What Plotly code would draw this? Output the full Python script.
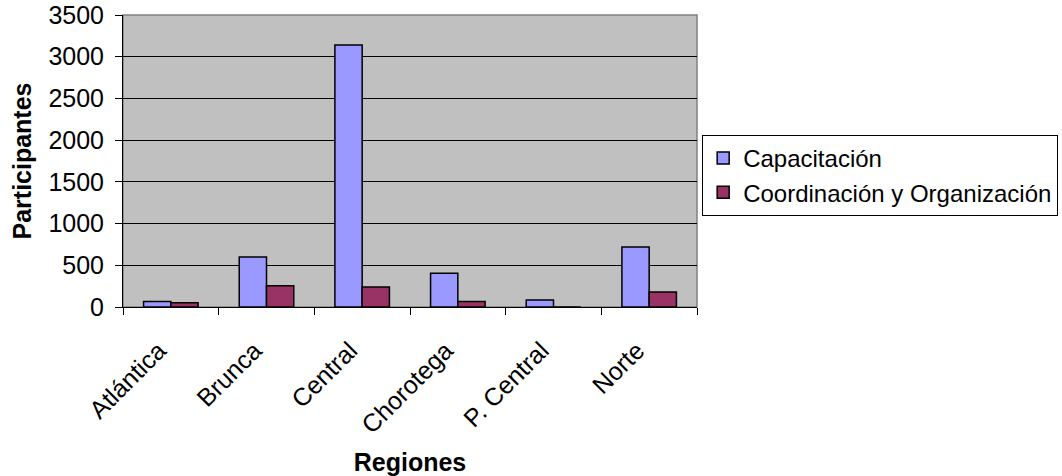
import plotly.graph_objects as go

regiones = ["Atlántica", "Brunca", "Central", "Chorotega", "P. Central", "Norte"]
capacitacion = [65, 600, 3140, 405, 85, 720]
coordinacion = [52, 255, 240, 65, 0, 180]

fig = go.Figure()
fig.add_trace(go.Bar(
    x=regiones, y=capacitacion, name="Capacitación",
    marker=dict(color="#9999FF", line=dict(color="black", width=1.5)),
))
fig.add_trace(go.Bar(
    x=regiones, y=coordinacion, name="Coordinación y Organización",
    marker=dict(color="#993366", line=dict(color="black", width=1.5)),
))

font_family = "Liberation Sans, Arial, sans-serif"

fig.update_layout(
    width=1062, height=476,
    margin=dict(l=123, r=365, t=15, b=169, autoexpand=False),
    paper_bgcolor="white",
    plot_bgcolor="#C0C0C0",
    barmode="group",
    bargap=0.43,
    bargroupgap=0,
    font=dict(family=font_family, size=25, color="black"),
    legend=dict(
        x=1.009, y=0.589, xanchor="left", yanchor="top",
        bordercolor="black", borderwidth=1, bgcolor="white",
        font=dict(size=24), tracegroupgap=0, itemwidth=30,
    ),
    xaxis=dict(
        tickangle=-45,
        ticks="outside", tickson="boundaries", ticklen=7, tickcolor="black",
        showline=True, linecolor="black", linewidth=1,
        automargin=False, ticklabelstandoff=18, ticklabelshift=-12,
        title=dict(text="<b>Regiones</b>", font=dict(size=25), standoff=30),
        tickfont=dict(size=25),
    ),
    yaxis=dict(
        range=[0, 3500], dtick=500,
        showgrid=True, gridcolor="black", gridwidth=1,
        ticks="outside", ticklen=7, tickcolor="black",
        showline=True, linecolor="black", linewidth=1,
        zeroline=False, automargin=False, ticklabelstandoff=6,
        title=dict(text="<b>Participantes</b>", font=dict(size=25), standoff=9),
        tickfont=dict(size=25),
    ),
    shapes=[
        dict(type="rect", xref="paper", yref="paper", x0=0, x1=1, y0=0, y1=1,
             line=dict(color="#808080", width=1.5), layer="below"),
    ],
)

fig.write_html("out.html")
